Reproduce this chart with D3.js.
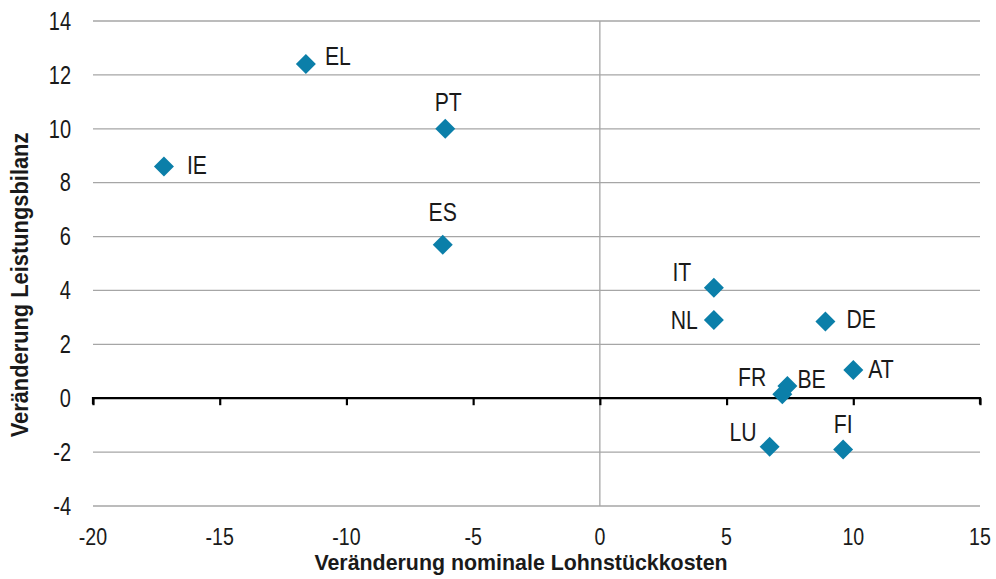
<!DOCTYPE html>
<html>
<head>
<meta charset="utf-8">
<script src="https://cdn.jsdelivr.net/npm/d3@7"></script>
<style>
  body { margin: 0; background: #fff; }
  svg text { font-family: "Liberation Sans", Arial, sans-serif; fill: #1a1a1a; }
</style>
</head>
<body>
<div id="chart"></div>
<script>
// data
var countries = ['EL', 'PT', 'IE', 'ES', 'IT', 'NL', 'DE', 'AT', 'BE', 'FR', 'LU', 'FI'];
var lohnkosten = [-11.6, -6.1, -17.2, -6.2, 4.5, 4.5, 8.9, 10.0, 7.4, 7.2, 6.7, 9.6];
var leistungsbilanz = [12.4, 10.0, 8.6, 5.7, 4.1, 2.9, 2.85, 1.05, 0.45, 0.15, -1.8, -1.9];
var xTicks = [-20, -15, -10, -5, 0, 5, 10, 15];
var yTicks = [-4, -2, 0, 2, 4, 6, 8, 10, 12, 14];

// label placement (dx, dy, anchor) per country
var labelPos = {
  EL: [19, -8, 'start'], PT: [3, -27, 'middle'], IE: [23, -2, 'start'],
  ES: [0, -33, 'middle'], IT: [-32, -16, 'middle'], NL: [-16, 0, 'end'],
  DE: [21, -3, 'start'], AT: [15, -1, 'start'], BE: [10, -7, 'start'],
  FR: [-16, -17, 'end'], LU: [-13, -15, 'end'], FI: [0, -26, 'middle']
};

var width = 996, height = 579;
var margin = {top: 21, right: 16, bottom: 73, left: 93};
var narrow = 0.8; // no Arial Narrow here, so squeeze the glyphs

var svg = d3.select('#chart').append('svg')
  .attr('width', width)
  .attr('height', height);

var x = d3.scaleLinear().domain([-20, 15]).range([margin.left, width - margin.right]);
var y = d3.scaleLinear().domain([-4, 14]).range([height - margin.bottom, margin.top]);

// text helper: place at (px,py) then squeeze horizontally
function placed(px, py, sx, rot) {
  return 'translate(' + px + ',' + py + ')' + (rot ? ' rotate(' + rot + ')' : '') + ' scale(' + sx + ',1)';
}

// horizontal grid
svg.append('g')
  .selectAll('line')
  .data(yTicks.filter(function(d) { return d !== 0; }))
  .enter().append('line')
  .attr('x1', x(-20)).attr('x2', x(15))
  .attr('y1', function(d) { return y(d); })
  .attr('y2', function(d) { return y(d); })
  .attr('stroke', '#a6a6a6')
  .attr('stroke-width', 1.3);

// vertical line at 0
svg.append('line')
  .attr('x1', x(0)).attr('x2', x(0))
  .attr('y1', y(14)).attr('y2', y(-4))
  .attr('stroke', '#a6a6a6')
  .attr('stroke-width', 1.3);

// y tick labels
svg.append('g')
  .selectAll('text')
  .data(yTicks)
  .enter().append('text')
  .attr('transform', function(d) { return placed(71, y(d), narrow); })
  .attr('dy', '0.35em')
  .attr('text-anchor', 'end')
  .style('font-size', '25px')
  .text(function(d) { return d; });

// x axis through 0
var xAxis = d3.axisBottom(x).tickValues(xTicks).tickSize(7).tickFormat('');
var gx = svg.append('g')
  .attr('transform', 'translate(0,' + y(0) + ')')
  .call(xAxis);
gx.select('.domain').attr('stroke', '#000').attr('stroke-width', 2.2)
  .attr('d', 'M' + x(-20) + ',6V0H' + x(15) + 'V6');
gx.selectAll('.tick line').attr('stroke', '#000').attr('stroke-width', 2.2);

// x tick labels at the bottom
svg.append('g')
  .selectAll('text')
  .data(xTicks)
  .enter().append('text')
  .attr('transform', function(d) { return placed(x(d), y(-4) + 39, narrow); })
  .attr('text-anchor', 'middle')
  .style('font-size', '24.5px')
  .text(function(d) { return d; });

// axis titles
svg.append('text')
  .attr('transform', placed(521, 570, 0.93))
  .attr('text-anchor', 'middle')
  .style('font-size', '23px')
  .style('font-weight', 'bold')
  .text('Veränderung nominale Lohnstückkosten');

svg.append('text')
  .attr('transform', placed(28, 285, 0.93, -90))
  .attr('text-anchor', 'middle')
  .style('font-size', '23.5px')
  .style('font-weight', 'bold')
  .text('Veränderung Leistungsbilanz');

// points
var pts = countries.map(function(c, i) { return {c: c, x: lohnkosten[i], y: leistungsbilanz[i]}; });
var diamond = d3.symbol().type(d3.symbolSquare).size(200);

svg.append('g')
  .selectAll('path')
  .data(pts)
  .enter().append('path')
  .attr('d', diamond)
  .attr('transform', function(d) { return 'translate(' + x(d.x) + ',' + y(d.y) + ') rotate(45)'; })
  .attr('fill', '#0b7fa9');

svg.append('g')
  .selectAll('text')
  .data(pts)
  .enter().append('text')
  .attr('transform', function(d) {
    return placed(x(d.x) + labelPos[d.c][0], y(d.y) + labelPos[d.c][1], narrow);
  })
  .attr('dy', '0.35em')
  .attr('text-anchor', function(d) { return labelPos[d.c][2]; })
  .style('font-size', '26.5px')
  .text(function(d) { return d.c; });
</script>
</body>
</html>
